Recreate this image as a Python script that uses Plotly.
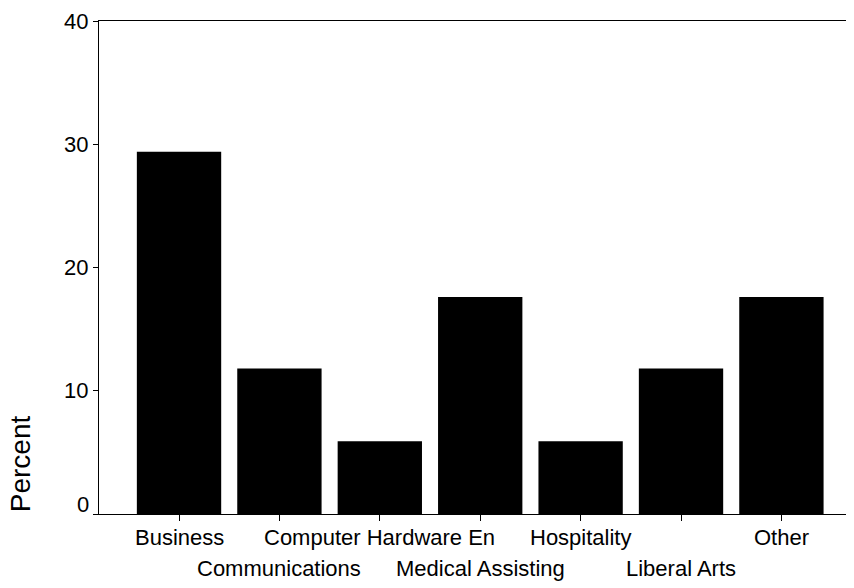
import plotly.graph_objects as go

categories = ["Business", "Communications", "Computer Hardware En", "Medical Assisting",
              "Hospitality", "Liberal Arts", "Other"]
percent = [29.4, 11.8, 5.9, 17.6, 5.9, 11.8, 17.6]
label_row = [1, 2, 1, 2, 1, 2, 1]
y_ticks = [0, 10, 20, 30, 40]

FONT = "Liberation Sans, Arial, sans-serif"

fig = go.Figure()
fig.add_trace(go.Bar(
    x=list(range(len(categories))),
    y=percent,
    width=0.84,
    marker=dict(color="#000000", line=dict(width=0)),
    hoverinfo="skip",
))

for i, (cat, row) in enumerate(zip(categories, label_row)):
    fig.add_annotation(
        x=i, xref="x", y=0, yref="paper",
        text=cat, showarrow=False,
        yanchor="top", xanchor="center",
        yshift=-9 if row == 1 else -40,
        font=dict(family=FONT, size=22, color="#000"),
    )

# the "0" label sits slightly above its tick in the original
fig.add_annotation(
    x=0, xref="paper", xshift=-8, y=y_ticks[0], yref="y", yshift=10,
    text=str(y_ticks[0]), showarrow=False, xanchor="right", yanchor="middle",
    font=dict(family=FONT, size=22, color="#000"),
)

fig.add_annotation(
    x=0, xref="paper", xshift=-79, y=0.101, yref="paper",
    text="Percent", textangle=-90, showarrow=False,
    xanchor="center", yanchor="middle",
    font=dict(family=FONT, size=28, color="#000"),
)

fig.update_layout(
    width=854, height=588,
    margin=dict(l=91, r=8, t=13, b=82),
    paper_bgcolor="white", plot_bgcolor="white",
    showlegend=False,
    font=dict(family=FONT, color="#000"),
)
fig.update_xaxes(
    range=[-0.797, 6.723],
    tickmode="array", tickvals=list(range(len(categories))), ticktext=[""] * len(categories),
    ticks="outside", ticklen=6, tickcolor="#000", tickwidth=1,
    showline=True, linecolor="#000", linewidth=1, mirror=True,
    showgrid=False, zeroline=False, automargin=False,
)
fig.update_yaxes(
    range=[0, 40],
    tickmode="array", tickvals=y_ticks,
    ticktext=[""] + [str(v) for v in y_ticks[1:]],
    ticks="outside", ticklen=5, tickcolor="#000", tickwidth=1,
    tickfont=dict(family=FONT, size=22, color="#000"),
    showline=True, linecolor="#000", linewidth=1,
    showgrid=False, zeroline=False, automargin=False,
)

fig.write_html("out.html")
